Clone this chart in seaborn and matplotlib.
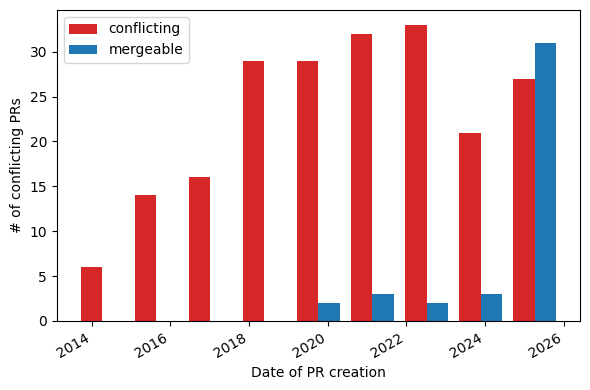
import numpy as np
import matplotlib
matplotlib.use("Agg")
import matplotlib.pyplot as plt
import matplotlib.dates as mdates
import seaborn as sns

# histogram bins (date range of PR creation) and counts per bin
bin_range = ("2013-08-03", "2025-12-13")
n_bins = 9
conflicting = [6, 14, 16, 29, 29, 32, 33, 21, 27]
mergeable = [0, 0, 0, 0, 2, 3, 2, 3, 31]
labels = ["conflicting", "mergeable"]

pal = sns.color_palette("tab10")
colors = [pal[3], pal[0]]

lo, hi = (mdates.datestr2num(d) for d in bin_range)
edges = np.linspace(lo, hi, n_bins + 1)
centers = (edges[:-1] + edges[1:]) / 2

fig, ax = plt.subplots(figsize=(5.9, 3.9), dpi=100)
ax.hist([centers, centers], bins=edges, weights=[conflicting, mergeable],
        color=colors, label=labels)
ax.xaxis_date()
ax.set_xlabel("Date of PR creation")
ax.set_ylabel("# of conflicting PRs")
ax.legend(loc="upper left")
fig.autofmt_xdate()
fig.tight_layout(pad=0.72)
fig.savefig("out.png", dpi=100)
